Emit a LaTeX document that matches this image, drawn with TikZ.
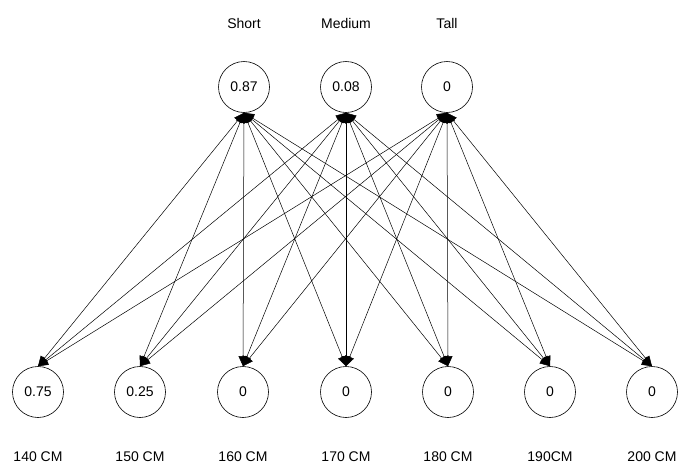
\documentclass[tikz,border=0pt]{standalone}
\usepackage{fontspec}
\setmainfont{Liberation Sans}
\usetikzlibrary{arrows.meta}
\begin{document}
\begin{tikzpicture}[x=1pt,y=-1pt,
  neuron/.style={circle,draw,line width=0.6pt,minimum size=51pt,inner sep=0pt,font=\fontsize{14}{16}\selectfont},
  lbl/.style={font=\fontsize{14}{16}\selectfont,inner sep=0pt},
  link/.style={line width=0.5pt,{Triangle[length=10pt,width=9pt]}-{Triangle[length=10pt,width=9pt]}}]
\useasboundingbox (0,0) rectangle (681,466);
\node[neuron] (t1) at (244,87) {0.87};
\node[neuron] (t2) at (346,87) {0.08};
\node[neuron] (t3) at (447,87) {0};
\node[lbl] (lt1) at (244,23) {Short};
\node[lbl] (lt2) at (346,23) {Medium};
\node[lbl] (lt3) at (447,23) {Tall};
\foreach \i/\x/\v/\l in {1/38/0.75/140 CM,2/140/0.25/150 CM,3/243/0/160 CM,4/346/0/170 CM,5/448/0/180 CM,6/550/0/190CM,7/652/0/200 CM}{
  \node[neuron] (b\i) at (\x,392) {\v};
  \node[lbl] (lb\i) at (\x,457) {\l};
}
\foreach \t in {1,2,3}{
  \foreach \b in {1,...,7}{
    \draw[link] (t\t.south) -- (b\b.north);
  }
}
\end{tikzpicture}
\end{document}
